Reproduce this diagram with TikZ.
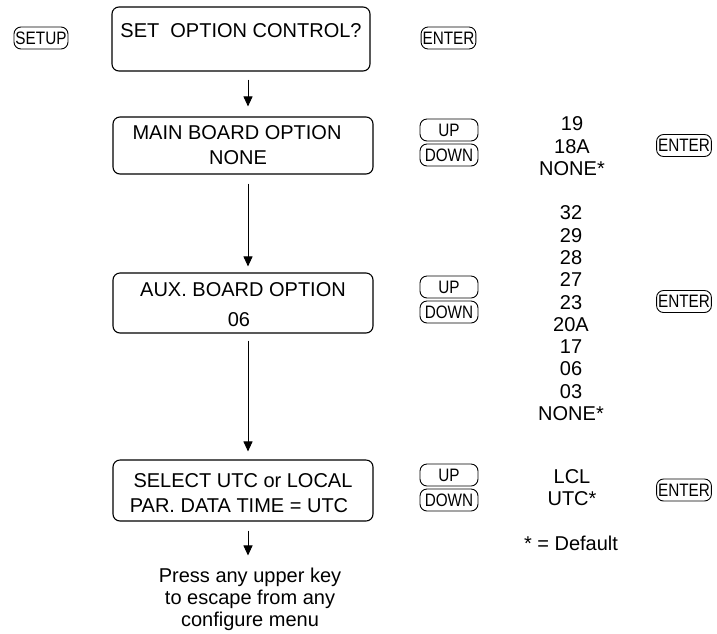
\documentclass[tikz,border=0pt]{standalone}
\usepackage{fontspec}
\setmainfont{Liberation Sans}
\newfontfamily\keyfont[FakeStretch=0.85]{Liberation Sans}
\usetikzlibrary{arrows.meta}
\begin{document}
\begin{tikzpicture}[x=1pt,y=-1pt,
  bigbox/.style={draw, line width=1.1pt, rounded corners=7pt, minimum width=260pt,
    align=center, font=\fontsize{20}{25}\selectfont, inner sep=0pt},
  key/.style={draw, line width=0.9pt, rounded corners=7pt, minimum height=22pt,
    inner xsep=1.5pt, inner ysep=0pt, font=\keyfont\fontsize{18}{18}\selectfont},
  updown/.style={key, minimum width=58pt},
  lbl/.style={font=\fontsize{20}{22.3}\selectfont, align=center, inner sep=0pt},
  flow/.style={-{Triangle[length=10pt,width=9pt]}, line width=0.9pt}]
\useasboundingbox (0,0) rectangle (717,633);
\coordinate (ax) at (248,0);

% row 1
\node[key] (setup) at (41,38) {SETUP};
\node[bigbox, minimum width=258pt, minimum height=64pt] (b1) at (241,39)
  {\rule{0pt}{21pt}SET\ \ OPTION CONTROL?\\\mbox{}};
\node[key] (enter1) at (448.5,38) {ENTER};

% row 2
\node[bigbox, minimum height=57pt] (b2) at (243,145.5)
  {MAIN BOARD OPTION\hspace*{12pt}\\NONE\hspace*{10pt}};
\node[updown] (up2) at (449,130) {UP};
\node[updown] (down2) at (449,155) {DOWN};
\node[lbl] (list2) at (572,146.3) {19\\18A\\NONE*};
\node[key] (enter2) at (684,145.5) {ENTER};

% row 3
\node[bigbox, minimum height=60pt, font=\fontsize{20}{30}\selectfont] (b3) at (243,303)
  {\rule{0pt}{18pt}AUX. BOARD OPTION\\06\hspace*{8pt}};
\node[updown] (up3) at (449,287) {UP};
\node[updown] (down3) at (449,312) {DOWN};
\node[lbl] (list3) at (571,313.3) {32\\29\\28\\27\\23\\20A\\17\\06\\03\\NONE*};
\node[key] (enter3) at (684,301.5) {ENTER};

% row 4
\node[bigbox, minimum height=61pt] (b4) at (243,490.5)
  {\rule{0pt}{18.6pt}SELECT UTC or LOCAL\\PAR. DATA TIME = UTC\hspace*{8pt}};
\node[updown] (up4) at (449,475) {UP};
\node[updown] (down4) at (449,500) {DOWN};
\node[lbl] (list4) at (572,487.6) {LCL\\UTC*};
\node[key] (enter4) at (684,490) {ENTER};
\node[lbl] (default) at (571,543) {* = Default};

% escape note
\node[lbl, font=\fontsize{20}{22}\selectfont] (esc) at (250,599)
  {Press any upper key\\to escape from any\\configure menu};

% connectors
\draw[flow, shorten <=8pt, shorten >=10pt] (b1.south -| ax) -- (b2.north -| ax);
\draw[flow, shorten <=9pt, shorten >=6pt] (b2.south -| ax) -- (b3.north -| ax);
\draw[flow, shorten <=7pt, shorten >=8pt] (b3.south -| ax) -- (b4.north -| ax);
\draw[flow, shorten <=9pt, shorten >=12pt] (b4.south -| ax) -- (esc.north -| ax);
\end{tikzpicture}
\end{document}
